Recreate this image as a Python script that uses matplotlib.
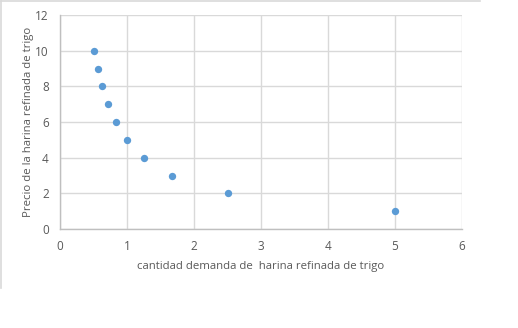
import matplotlib
matplotlib.use("Agg")
import matplotlib.pyplot as plt
from matplotlib.lines import Line2D

cantidad = [0.5, 0.56, 0.63, 0.71, 0.83, 1.0, 1.25, 1.67, 2.5, 5.0]
precio = [10, 9, 8, 7, 6, 5, 4, 3, 2, 1]
x_ticks = [0, 1, 2, 3, 4, 5, 6]
y_ticks = [0, 2, 4, 6, 8, 10, 12]

plt.rcParams["font.family"] = ["Open Sans", "DejaVu Sans"]
gris = "#595959"
grid_col = "#d9d9d9"

fig = plt.figure(figsize=(5.18, 3.28), dpi=100)
ax = fig.add_axes([60 / 518, 1 - 229 / 328, 402 / 518, 214 / 328])

ax.scatter(cantidad, precio, s=28, color="#5b9bd5", zorder=3, linewidths=0)

ax.set_xlim(0, 6)
ax.set_ylim(0, 12)
ax.set_xticks(x_ticks)
ax.set_yticks(y_ticks)
ax.grid(True, color=grid_col, linewidth=1)
ax.set_axisbelow(True)
for s in ["top", "right"]:
    ax.spines[s].set_visible(False)
for s in ["left", "bottom"]:
    ax.spines[s].set_color("#bfbfbf")
    ax.spines[s].set_linewidth(1)
ax.tick_params(length=0, colors=gris, labelsize=8.5, pad=8)

ax.set_xlabel("cantidad demanda de  harina refinada de trigo", color=gris,
              fontsize=8.2, labelpad=6)
ax.set_ylabel("Precio de la harina refinada de trigo", color=gris,
              fontsize=8.2, labelpad=1)

# chart area border (partly visible)
fig.add_artist(Line2D([0.5 / 518, 480 / 518], [1 - 1 / 328, 1 - 1 / 328],
                      transform=fig.transFigure, color=grid_col, linewidth=1.2))
fig.add_artist(Line2D([0.8 / 518, 0.8 / 518], [1 - 1 / 328, 1 - 288 / 328],
                      transform=fig.transFigure, color=grid_col, linewidth=1.2))

fig.savefig("out.png", dpi=100, facecolor="white")
